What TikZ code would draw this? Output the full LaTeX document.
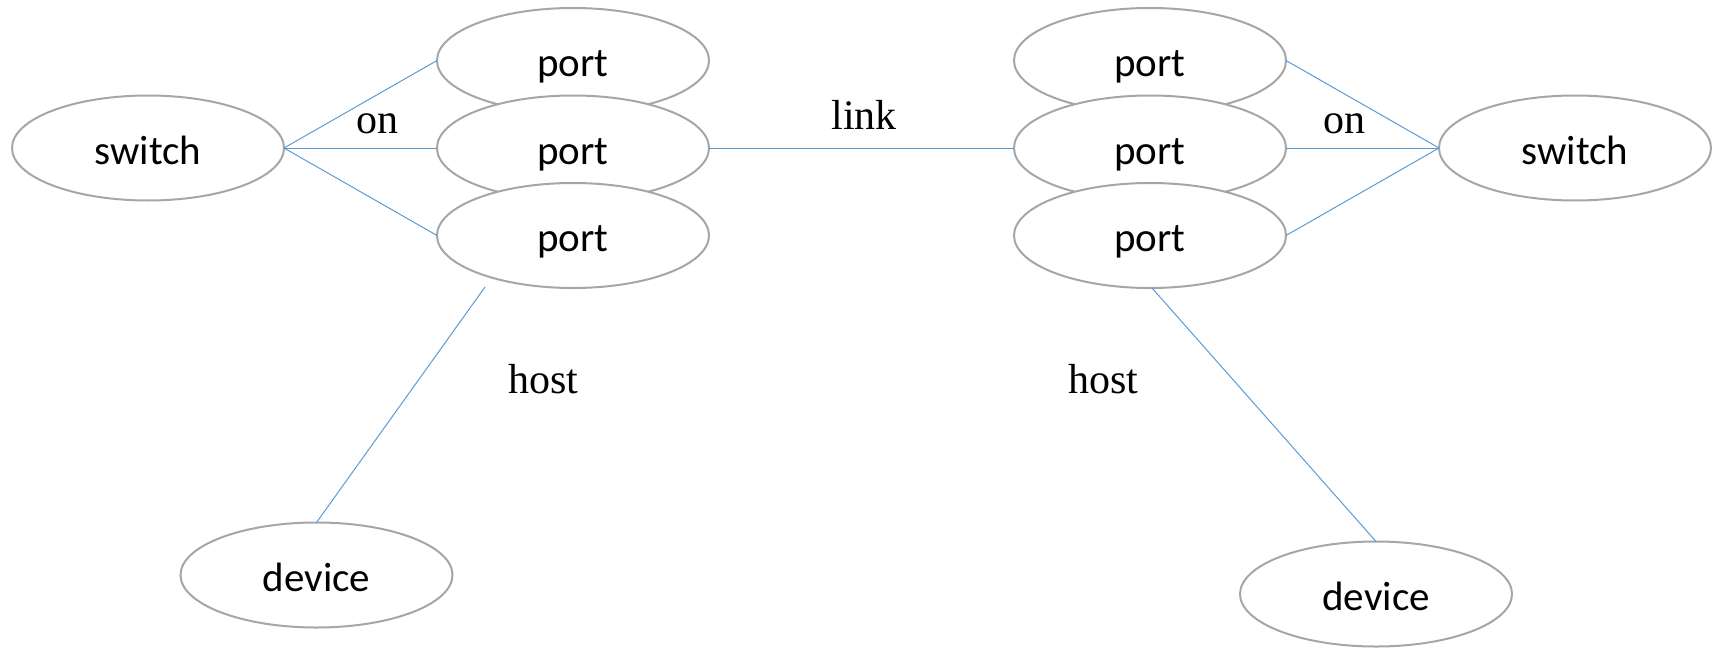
\documentclass[tikz,border=0pt]{standalone}
\usepackage{fontspec}
\setmainfont{Liberation Serif}
\newfontfamily\boxfont{Carlito}
\usetikzlibrary{shapes.geometric}
\definecolor{rimgray}{HTML}{A6A6A6}
\definecolor{wireblue}{HTML}{5B9BD5}
\tikzset{
  entity/.style={ellipse, draw=rimgray, line width=1pt, fill=white,
    minimum width=136pt, minimum height=52.5pt, inner sep=0pt, outer sep=0pt,
    text height=18pt, text depth=2pt,
    font=\boxfont\fontsize{20.5pt}{24pt}\selectfont},
  wire/.style={draw=wireblue, line width=0.5pt},
  rel/.style={inner sep=0pt, font=\fontsize{21pt}{25pt}\selectfont}
}
\begin{document}
\begin{tikzpicture}[x=0.5pt, y=-0.5pt]
  \useasboundingbox (0,0) rectangle (1716,647);

  % left switch with its ports
  \node[entity] (lsw) at (148,148) {switch};
  \node[entity] (lp1) at (573,60.5) {port};
  \node[entity] (lp2) at (573,148) {port};
  \node[entity] (lp3) at (573,235.5) {port};

  % right switch with its ports
  \node[entity] (rsw) at (1575,148) {switch};
  \node[entity] (rp1) at (1150,60.5) {port};
  \node[entity] (rp2) at (1150,148) {port};
  \node[entity] (rp3) at (1150,235.5) {port};

  % attached devices
  \node[entity] (ldev) at (316.5,575) {device};
  \node[entity] (rdev) at (1376,594) {device};

  \coordinate (lhost) at (485,287);
  \coordinate (rhost) at (1152,288);

  % connectors
  \draw[wire] (lsw.east) -- (lp1.west);
  \draw[wire] (lsw.east) -- (lp2.west);
  \draw[wire] (lsw.east) -- (lp3.west);
  \draw[wire] (rsw.west) -- (rp1.east);
  \draw[wire] (rsw.west) -- (rp2.east);
  \draw[wire] (rsw.west) -- (rp3.east);
  \draw[wire] (lp2.east) -- (rp2.west);
  \draw[wire] (lhost) -- (ldev.north);
  \draw[wire] (rhost) -- (rdev.north);

  % relation labels
  \node[rel] (lon) at (377,124) {on};
  \node[rel] (ron) at (1344,124) {on};
  \node[rel] (lnk) at (864,115) {link};
  \node[rel] (lh) at (543,379) {host};
  \node[rel] (rh) at (1103,379) {host};
\end{tikzpicture}
\end{document}
